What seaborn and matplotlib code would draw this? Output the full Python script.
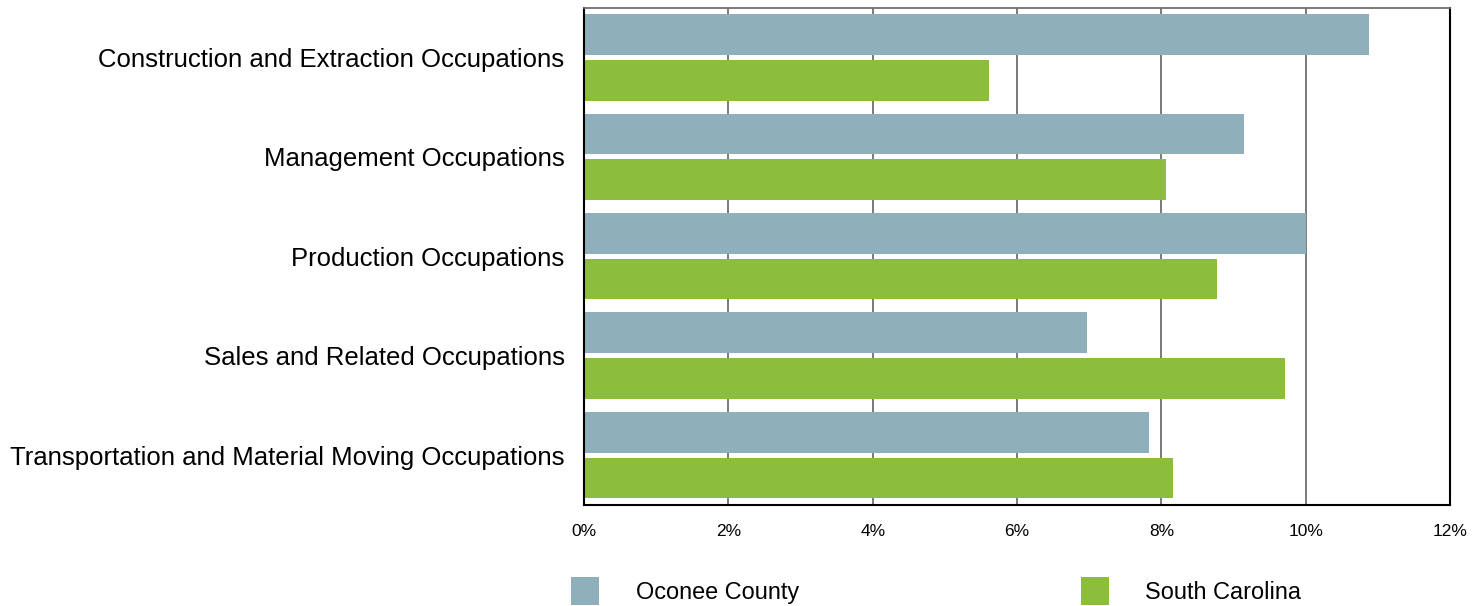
import pandas as pd
import seaborn as sns
import matplotlib.pyplot as plt
from matplotlib.ticker import FuncFormatter

# data
categories = [
    "Construction and Extraction Occupations",
    "Management Occupations",
    "Production Occupations",
    "Sales and Related Occupations",
    "Transportation and Material Moving Occupations",
]
oconee = [10.88, 9.15, 10.0, 6.97, 7.83]
south_carolina = [5.61, 8.06, 8.77, 9.71, 8.16]
regions = ["Oconee County", "South Carolina"]
colors = ["#8FAFBA", "#8DBD3C"]

df = pd.DataFrame({
    "occupation": categories * 2,
    "region": [regions[0]] * len(categories) + [regions[1]] * len(categories),
    "share": oconee + south_carolina,
})

sns.set_style("white")
plt.rcParams["font.family"] = ["Liberation Sans", "DejaVu Sans"]
plt.rcParams["text.color"] = "black"
plt.rcParams["xtick.color"] = "black"
plt.rcParams["ytick.color"] = "black"

fig = plt.figure(figsize=(14.83, 6.06), dpi=100)
ax = fig.add_axes([0.3938, 0.1667, 0.584, 0.8209])

sns.barplot(data=df, y="occupation", x="share", hue="region", order=categories,
            hue_order=regions, palette=colors, orient="h", width=0.915, gap=0.1,
            saturation=1, linewidth=0, ax=ax)

ax.set_xlim(0, 12)
ax.set_xticks(range(0, 13, 2))
ax.xaxis.set_major_formatter(FuncFormatter(lambda v, p: f"{v:.0f}%"))
ax.grid(axis="x", color="#707070", linewidth=1.3)
ax.set_axisbelow(True)
ax.set_xlabel("")
ax.set_ylabel("")
ax.tick_params(axis="x", length=0, pad=14, labelsize=12.5, labelcolor="black")
ax.tick_params(axis="y", length=0, pad=14, labelsize=18.5, labelcolor="black")

for side in ["left", "bottom", "right"]:
    ax.spines[side].set_color("black")
    ax.spines[side].set_linewidth(1.5)
ax.spines["top"].set_color("#707070")
ax.spines["top"].set_linewidth(1.3)

handles, labels = ax.get_legend_handles_labels()
ax.get_legend().remove()
leg = fig.legend(handles, labels, loc="center left", bbox_to_anchor=(571 / 1483, 0.0248),
                 ncol=2, frameon=False, fontsize=16.9, handlelength=1.19, handleheight=1.455,
                 handletextpad=1.57, columnspacing=12.0, borderpad=0, borderaxespad=0)
for t in leg.get_texts():
    t.set_color("black")

fig.savefig("out.png", dpi=100)
